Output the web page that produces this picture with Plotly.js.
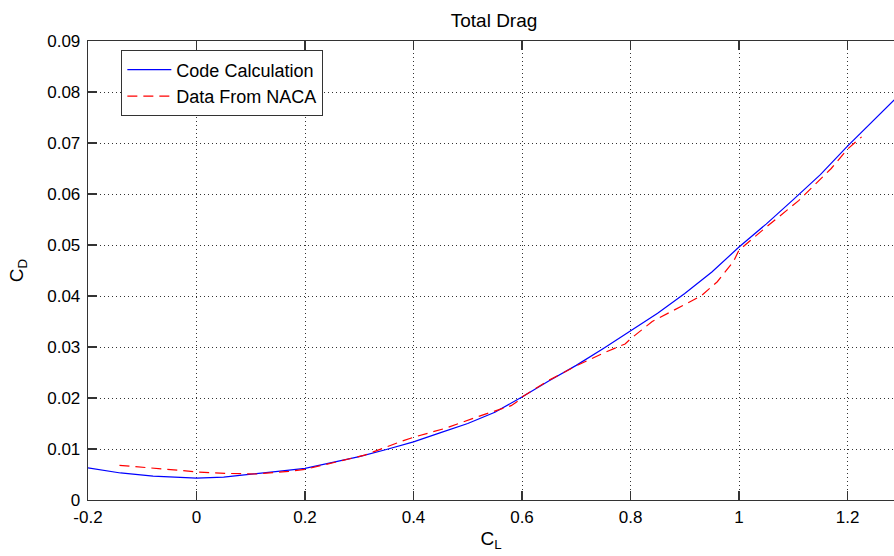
<!DOCTYPE html>
<html>
<head>
<meta charset="utf-8">
<script src="https://cdn.plot.ly/plotly-3.0.1.min.js"></script>
<style>html,body{margin:0;padding:0;background:#fff;}#chart{width:894px;height:556px;}</style>
</head>
<body>
<div id="chart"></div>
<script>
// Code Calculation (blue solid)
const calcCL = [-0.2, -0.14, -0.08, -0.03, 0, 0.05, 0.1, 0.15, 0.2, 0.25, 0.3, 0.35, 0.4, 0.45, 0.5, 0.55, 0.6, 0.65, 0.7, 0.75, 0.8, 0.85, 0.9, 0.95, 1.0, 1.05, 1.1, 1.15, 1.2, 1.25, 1.3];
const calcCD = [0.0063, 0.0053, 0.0047, 0.0044, 0.0043, 0.0045, 0.0050, 0.0056, 0.0062, 0.0074, 0.0085, 0.0099, 0.0114, 0.0132, 0.0150, 0.0172, 0.0202, 0.0234, 0.0264, 0.0297, 0.0332, 0.0366, 0.0405, 0.0447, 0.0496, 0.0541, 0.0589, 0.0638, 0.0694, 0.0747, 0.0799];
// Data From NACA (red dashed)
const nacaCL = [-0.142, -0.08, -0.03, 0, 0.06, 0.11, 0.17, 0.2, 0.25, 0.31, 0.375, 0.4, 0.46, 0.52, 0.58, 0.59, 0.6, 0.65, 0.7, 0.75, 0.79, 0.8, 0.84, 0.89, 0.93, 0.96, 0.99, 1.0, 1.05, 1.11, 1.17, 1.2, 1.226];
const nacaCD = [0.0068, 0.0063, 0.0058, 0.0055, 0.0052, 0.0051, 0.0056, 0.0060, 0.0073, 0.0088, 0.0114, 0.0123, 0.0141, 0.0164, 0.0185, 0.0192, 0.0202, 0.0235, 0.0263, 0.0288, 0.0306, 0.0316, 0.0350, 0.0378, 0.0400, 0.0428, 0.0468, 0.0490, 0.0535, 0.0587, 0.0650, 0.0688, 0.0712];
const xTicks = [-0.2, 0, 0.2, 0.4, 0.6, 0.8, 1, 1.2];
const xTickText = ['-0.2', '0', '0.2', '0.4', '0.6', '0.8', '1', '1.2'];
const yTicks = [0, 0.01, 0.02, 0.03, 0.04, 0.05, 0.06, 0.07, 0.08, 0.09];
const yTickText = ['0', '0.01', '0.02', '0.03', '0.04', '0.05', '0.06', '0.07', '0.08', '0.09'];

const FONT = 'Liberation Sans, Arial, Helvetica, sans-serif';

const traces = [
  {x: calcCL, y: calcCD, type: 'scatter', mode: 'lines', name: 'Code Calculation',
   line: {color: '#0000ff', width: 1.2}},
  {x: nacaCL, y: nacaCD, type: 'scatter', mode: 'lines', name: 'Data From NACA',
   line: {color: '#ff0000', width: 1.2, dash: '10px,6px'}}
];

const axisCommon = {
  showline: true, linecolor: '#333', linewidth: 1.3,
  ticks: 'inside', ticklen: 9, tickwidth: 1.3, tickcolor: '#333',
  showgrid: true, gridcolor: '#333', gridwidth: 1, griddash: '1px,3px',
  zeroline: false, tickfont: {family: FONT, size: 17, color: '#000'}
};

const layout = {
  width: 894, height: 556,
  margin: {l: 88, r: 0, t: 41, b: 56},
  paper_bgcolor: '#fff', plot_bgcolor: '#fff',
  font: {family: FONT, color: '#000'},
  title: {text: 'Total Drag', x: 0.5526, xanchor: 'center', xref: 'container', y: 0.964, yanchor: 'middle',
          font: {family: FONT, size: 19, color: '#000'}},
  xaxis: Object.assign({}, axisCommon, {
    range: [-0.2, 1.2857], tickmode: 'array', tickvals: xTicks, ticktext: xTickText, mirror: 'ticks',
    ticklabelstandoff: 1,
    title: {text: 'C<sub>L</sub>', font: {family: FONT, size: 19, color: '#000'}, standoff: 6}
  }),
  yaxis: Object.assign({}, axisCommon, {
    range: [0, 0.09], tickmode: 'array', tickvals: yTicks, ticktext: yTickText, mirror: false,
    ticklabelstandoff: 3,
    title: {text: 'C<sub>D</sub>', font: {family: FONT, size: 19, color: '#000'}, standoff: 18}
  }),
  legend: {x: 0.041, y: 0.98, xanchor: 'left', yanchor: 'top', bgcolor: '#fff',
           bordercolor: '#333', borderwidth: 1.3, itemwidth: 44,
           font: {family: FONT, size: 18, color: '#000'}},
  showlegend: true
};

Plotly.newPlot('chart', traces, layout, {displayModeBar: false, staticPlot: true});
</script>
</body>
</html>
